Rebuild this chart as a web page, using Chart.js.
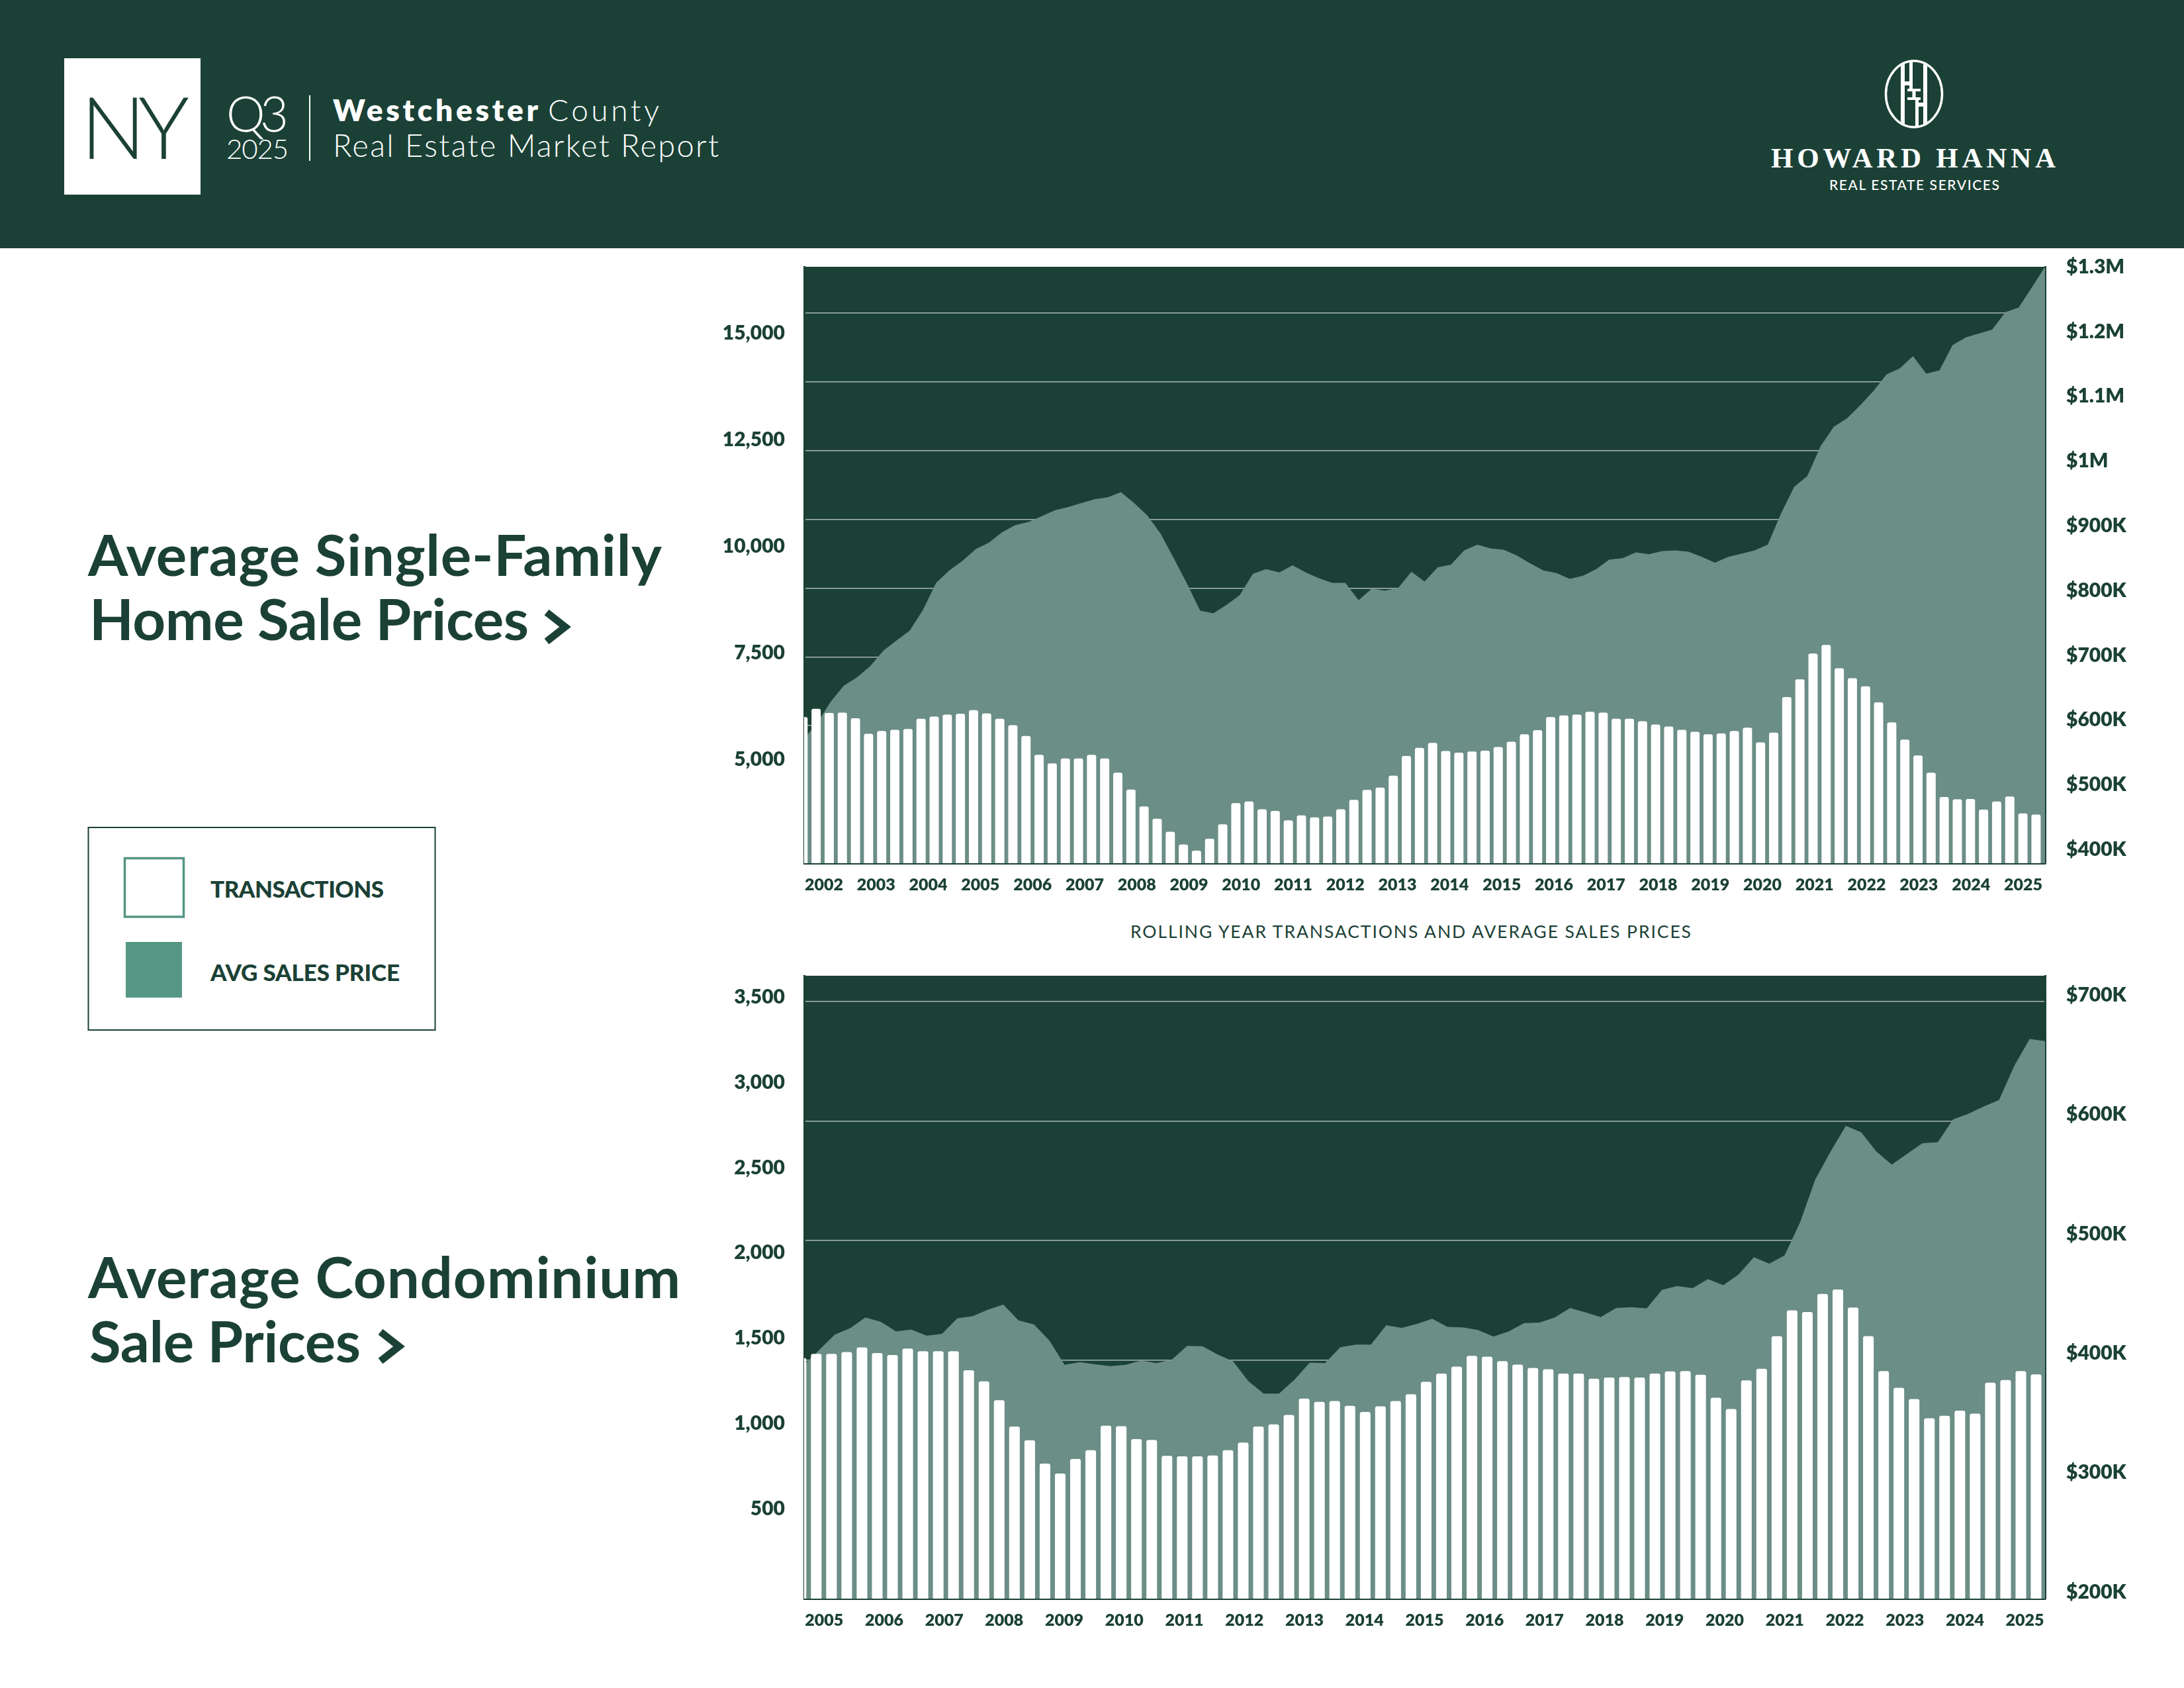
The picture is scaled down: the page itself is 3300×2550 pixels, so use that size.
<!DOCTYPE html>
<html><head><meta charset="utf-8">
<script src="https://cdn.jsdelivr.net/npm/chart.js@4.4.1/dist/chart.umd.min.js"></script>
<style>
html,body{margin:0;padding:0;background:#fff;}
#page{position:relative;width:3300px;height:2550px;overflow:hidden;background:#fff;}
#deco{position:absolute;left:0;top:0;}
canvas{position:absolute;}
#c1{left:1000px;top:370px;}
#c2{left:1000px;top:1440px;}
</style></head>
<body><div id="page">
<svg id="deco" width="3300" height="2550" xmlns="http://www.w3.org/2000/svg">
  <defs><clipPath id="ov"><ellipse cx="2892" cy="142" rx="41" ry="48.5"/></clipPath></defs>
  <rect x="0" y="0" width="3300" height="375" fill="#1b4136"/>
  <rect x="97" y="88" width="206" height="206" fill="#ffffff"/>
  <text x="122" y="240" font-family="Lato" font-weight="300" font-size="130" fill="#1b4136" textLength="164" lengthAdjust="spacing">NY</text>
  <text x="342" y="199" font-family="Lato" font-weight="300" font-size="74" fill="#ffffff" textLength="94" lengthAdjust="spacing">Q3</text>
  <text x="342" y="240" font-family="Lato" font-weight="300" font-size="42" fill="#ffffff" textLength="94" lengthAdjust="spacing">2025</text>
  <line x1="468" y1="144" x2="468" y2="243" stroke="#ffffff" stroke-width="2"/>
  <text x="503" y="183" font-family="Lato" font-weight="800" font-size="46" fill="#ffffff" textLength="310" lengthAdjust="spacing">Westchester</text>
  <text x="828" y="183" font-family="Lato" font-weight="300" font-size="46" fill="#ffffff" textLength="168" lengthAdjust="spacing">County</text>
  <text x="503" y="237" font-family="Lato" font-weight="300" font-size="47" fill="#ffffff" textLength="583" lengthAdjust="spacing">Real Estate Market Report</text>

  <ellipse cx="2892" cy="142" rx="42.5" ry="50" fill="none" stroke="#ffffff" stroke-width="3.5"/>
  <g clip-path="url(#ov)" fill="#ffffff">
    <rect x="2872" y="90" width="6" height="110"/>
    <rect x="2906" y="90" width="6" height="110"/>
    <rect x="2878" y="123" width="7" height="6"/>
    <rect x="2885" y="90" width="5" height="46"/>
    <rect x="2894" y="148" width="5" height="50"/>
    <rect x="2899" y="155" width="7" height="6"/>
    <rect x="2882" y="134" width="20" height="4"/>
    <rect x="2882" y="147" width="20" height="4"/>
    <rect x="2889.5" y="134" width="5" height="17"/>
  </g>
  <text x="2676" y="253" font-family="Liberation Serif" font-weight="700" font-size="43" fill="#ffffff" textLength="430" lengthAdjust="spacing">HOWARD HANNA</text>
  <text x="2764" y="287" font-family="Lato" font-weight="500" font-size="21" fill="#ffffff" textLength="257" lengthAdjust="spacing">REAL ESTATE SERVICES</text>

  <text x="133" y="870" font-family="Lato" font-weight="700" font-size="87" fill="#1b4136" textLength="867" lengthAdjust="spacing">Average Single-Family</text>
  <text x="135" y="967" font-family="Lato" font-weight="700" font-size="87" fill="#1b4136" textLength="664" lengthAdjust="spacing">Home Sale Prices</text>
  <polyline points="826,925 854,947 826,969" fill="none" stroke="#1b4136" stroke-width="11" stroke-linejoin="miter"/>

  <rect x="133.5" y="1250" width="524" height="306" fill="none" stroke="#1b4136" stroke-width="2"/>
  <rect x="188.5" y="1296.5" width="89" height="88.5" fill="#ffffff" stroke="#559685" stroke-width="3.5"/>
  <rect x="190" y="1423" width="85" height="84" fill="#559685"/>
  <text x="318" y="1356" font-family="Lato" font-weight="900" font-size="35" fill="#1b4136" textLength="262" lengthAdjust="spacing">TRANSACTIONS</text>
  <text x="318" y="1481.5" font-family="Lato" font-weight="900" font-size="35" fill="#1b4136" textLength="286" lengthAdjust="spacing">AVG SALES PRICE</text>

  <text x="133" y="1961" font-family="Lato" font-weight="700" font-size="87" fill="#1b4136" textLength="895" lengthAdjust="spacing">Average Condominium</text>
  <text x="135" y="2058" font-family="Lato" font-weight="700" font-size="87" fill="#1b4136" textLength="410" lengthAdjust="spacing">Sale Prices</text>
  <polyline points="575,2012 603,2034 575,2056" fill="none" stroke="#1b4136" stroke-width="11" stroke-linejoin="miter"/>

  <text x="1708" y="1417" font-family="Lato" font-weight="400" font-size="26.5" fill="#1b4136" textLength="847" lengthAdjust="spacing">ROLLING YEAR TRANSACTIONS AND AVERAGE SALES PRICES</text>
</svg>
<canvas id="c1" width="2300" height="1010"></canvas>
<canvas id="c2" width="2300" height="1050"></canvas>
</div>
<script>
// ---------- Single-family data (rolling year, quarterly, 2002 Q1 - 2025 Q3) ----------
const SF_YEARS = [2002,2003,2004,2005,2006,2007,2008,2009,2010,2011,2012,2013,2014,2015,2016,2017,2018,2019,2020,2021,2022,2023,2024,2025];
const SF_TRANSACTIONS = [
  5990,6183,6087,6096,5962,5596,5663,5692,5711,5952,
  6000,6048,6067,6154,6077,5952,5798,5548,5106,4904,
  5019,5019,5106,5019,4683,4289,3894,3606,3298,3000,
  2856,3135,3471,3971,4010,3827,3788,3567,3683,3635,
  3654,3827,4048,4279,4337,4615,5077,5269,5385,5192,
  5154,5183,5202,5288,5413,5587,5683,5990,6029,6048,
  6115,6096,5952,5952,5894,5817,5769,5692,5644,5587,
  5606,5663,5740,5394,5625,6461,6875,7481,7683,7135,
  6904,6712,6337,5865,5462,5087,4683,4115,4058,4067,
  3817,4010,4125,3731,3702];
const SF_AVG_PRICE = [
  571000,596000,628000,653000,666000,683000,707000,723000,738000,770000,
  812000,831000,846000,864000,874000,890000,901000,906000,915000,924000,
  929000,935000,941000,944000,952000,935000,916000,888000,850000,811000,
  769000,765000,778000,793000,826000,833000,828000,839000,828000,819000,
  812000,812000,785000,803000,800000,804000,829000,814000,836000,840000,
  862000,871000,865000,863000,854000,842000,831000,827000,818000,823000,
  833000,848000,850000,859000,856000,861000,862000,860000,852000,843000,
  852000,857000,862000,871000,919000,960000,977000,1023000,1053000,1066000,
  1086000,1108000,1134000,1143000,1162000,1135000,1140000,1179000,1191000,1197000,
  1203000,1230000,1237000,1268000,1300000];
const SF_LEFT_TICKS = [5000,7500,10000,12500,15000];
const SF_RIGHT_TICKS = [400000,500000,600000,700000,800000,900000,1000000,1100000,1200000,1300000];

// ---------- Condominium data (rolling year, quarterly, 2005 Q2 - 2025 Q3) ----------
const CONDO_YEARS = [2005,2006,2007,2008,2009,2010,2011,2012,2013,2014,2015,2016,2017,2018,2019,2020,2021,2022,2023,2024,2025];
const CONDO_TRANSACTIONS = [
  1409,1434,1434,1444,1472,1439,1427,1465,1449,1449,
  1449,1338,1273,1162,1008,927,790,732,818,869,
  1013,1010,934,929,836,833,833,838,869,914,
  1008,1020,1076,1172,1152,1157,1129,1093,1126,1157,
  1197,1270,1318,1359,1422,1417,1391,1371,1351,1343,
  1318,1318,1288,1295,1298,1295,1318,1331,1333,1311,
  1177,1111,1278,1346,1538,1689,1679,1785,1811,1705,
  1538,1333,1235,1169,1056,1071,1101,1083,1265,1280,
  1333,1313];
const CONDO_AVG_PRICE = [
  395800,408400,421100,426500,435500,431900,423900,425400,420300,421800,
  434800,436600,442000,446300,433000,429700,416400,395800,398000,396200,
  394700,395800,399400,397300,400100,411700,411300,404500,398700,382100,
  371700,371700,383200,397600,397300,410600,412800,412800,429000,426800,
  430100,434400,427600,427200,425000,419600,423900,430800,431200,435500,
  443400,439800,435800,443400,444100,443100,458600,461800,460000,467600,
  462500,471500,486000,480600,487400,514800,550900,574300,596000,590600,
  574300,563500,572500,581500,582300,601400,606100,612200,617600,646500,
  668800,667000];
const CONDO_LEFT_TICKS = [500,1000,1500,2000,2500,3000,3500];
const CONDO_RIGHT_TICKS = [200000,300000,400000,500000,600000,700000];

function quarterLabels(startYear, startQ, n) {
  const out = [];
  let y = startYear, q = startQ;
  for (let i = 0; i < n; i++) { out.push(y + ' Q' + q); q++; if (q > 4) { q = 1; y++; } }
  return out;
}
const SF_QUARTERS = quarterLabels(2002, 1, SF_TRANSACTIONS.length);
const CONDO_QUARTERS = quarterLabels(2005, 2, CONDO_TRANSACTIONS.length);

// ---------- styling ----------
const DARK = '#1b4136', AREA = '#6b8e86', GRID = 'rgba(255,255,255,0.62)';
const TICK_FONT = {family: 'Lato', weight: '800', size: 30};
const YEAR_FONT = {family: 'Lato', weight: '800', size: 25};

const plotBg = {
  id: 'plotBg',
  beforeDraw(chart) {
    const a = chart.chartArea, ctx = chart.ctx;
    ctx.save(); ctx.fillStyle = DARK;
    ctx.fillRect(a.left, a.top, a.right - a.left, a.bottom - a.top);
    ctx.restore();
  }
};

function fmtCount(v) { return Number(v).toLocaleString('en-US'); }
function fmtMoney(v) { return v >= 1e6 ? '$' + (v / 1e6) + 'M' : '$' + (v / 1000) + 'K'; }
function noPad(s) { s.paddingTop = 0; s.paddingBottom = 0; }

function buildChart(el, p) {
  const n = p.transactions.length;
  return new Chart(el, {
    type: 'bar',
    data: {
      labels: p.quarters,
      datasets: [
        {type: 'bar', label: 'Transactions', data: p.transactions.map((v, i) => ({x: i, y: v})),
         xAxisID: 'x', yAxisID: 'y', backgroundColor: '#ffffff', borderWidth: 0,
         borderRadius: 3, barThickness: p.barThickness, order: 1, clip: 0},
        {type: 'line', label: 'Avg Sales Price', data: p.prices.map((v, i) => ({x: i, y: v})),
         xAxisID: 'xa', yAxisID: 'y2', backgroundColor: AREA, borderColor: 'rgba(0,0,0,0)',
         borderWidth: 0, pointRadius: 0, tension: 0, fill: 'start', order: 2, clip: 0}
      ]
    },
    options: {
      responsive: false, animation: false,
      layout: {padding: {top: p.padTop, left: 0, right: 0, bottom: 0}, autoPadding: false},
      plugins: {legend: {display: false}, tooltip: {enabled: false}},
      scales: {
        x: {type: 'linear', display: false, offset: false, min: p.barMin, max: p.barMax,
            afterBuildTicks: s => { s.ticks = p.transactions.map((v, i) => ({value: i})); }},
        xa: {type: 'linear', display: false, offset: false, min: 0, max: n - 1},
        xl: {type: 'linear', position: 'bottom', offset: false, min: p.yearMin, max: p.yearMax,
             afterBuildTicks: s => { s.ticks = p.years.map((y, i) => ({value: i})); },
             afterFit: s => { s.height = p.xHeight; s.paddingLeft = 0; s.paddingRight = 0; },
             grid: {display: false, drawTicks: false, offset: false},
             border: {display: true, color: DARK, width: 3}, z: 1,
             ticks: {autoSkip: false, maxRotation: 0, minRotation: 0, padding: 18, color: DARK,
                     font: YEAR_FONT, callback: v => p.years[v]}},
        g: {type: 'linear', position: 'left', min: p.gridMin, max: p.gridMax, beginAtZero: false,
            afterBuildTicks: s => { s.ticks = p.gridTicks.map(v => ({value: v})); },
            afterFit: s => { s.width = 0; noPad(s); },
            grid: {display: true, color: GRID, lineWidth: 1.5, drawTicks: false},
            border: {display: false}, ticks: {display: false}},
        y: {type: 'linear', position: 'left', min: p.leftMin, max: p.leftMax, beginAtZero: false,
            afterBuildTicks: s => { s.ticks = p.leftTicks.map(v => ({value: v})); },
            afterFit: s => { s.width = 215; noPad(s); },
            grid: {display: false, drawTicks: false},
            border: {display: true, color: DARK, width: 3}, z: 1,
            ticks: {padding: 29, color: DARK, font: TICK_FONT, labelOffset: p.leftOffset, callback: fmtCount}},
        y2: {type: 'linear', position: 'right', min: p.rightMin, max: p.rightMax, beginAtZero: false,
             afterBuildTicks: s => { s.ticks = p.rightTicks.map(v => ({value: v})); },
             afterFit: s => { s.width = 210; noPad(s); },
             grid: {display: false, drawTicks: false},
             border: {display: true, color: DARK, width: 3}, z: 1,
             ticks: {padding: 32, color: DARK, font: TICK_FONT, labelOffset: p.rightOffset, callback: fmtMoney}}
      }
    },
    plugins: [plotBg]
  });
}

buildChart(document.getElementById('c1'), {
  quarters: SF_QUARTERS, transactions: SF_TRANSACTIONS, prices: SF_AVG_PRICE, years: SF_YEARS,
  leftTicks: SF_LEFT_TICKS, rightTicks: SF_RIGHT_TICKS,
  barMin: -0.25, barMax: 94.35, yearMin: -0.381, yearMax: 23.42,
  leftMin: 2565, leftMax: 16566, rightMin: 379000, rightMax: 1300000,
  gridMin: 0, gridMax: 8.672, gridTicks: [1,2,3,4,5,6,7,8],
  padTop: 33, xHeight: 76, barThickness: 13.3, leftOffset: 0, rightOffset: 0
});
buildChart(document.getElementById('c2'), {
  quarters: CONDO_QUARTERS, transactions: CONDO_TRANSACTIONS, prices: CONDO_AVG_PRICE, years: CONDO_YEARS,
  leftTicks: CONDO_LEFT_TICKS, rightTicks: CONDO_RIGHT_TICKS,
  barMin: -0.13, barMax: 81.25, yearMin: -0.333, yearMax: 20.335,
  leftMin: 0, leftMax: 3652, rightMin: 200000, rightMax: 721700,
  gridMin: 200000, gridMax: 721700, gridTicks: [300000,400000,500000,600000,700000],
  padTop: 34, xHeight: 75, barThickness: 15.4, leftOffset: -7, rightOffset: -10
});
</script>
</body></html>
